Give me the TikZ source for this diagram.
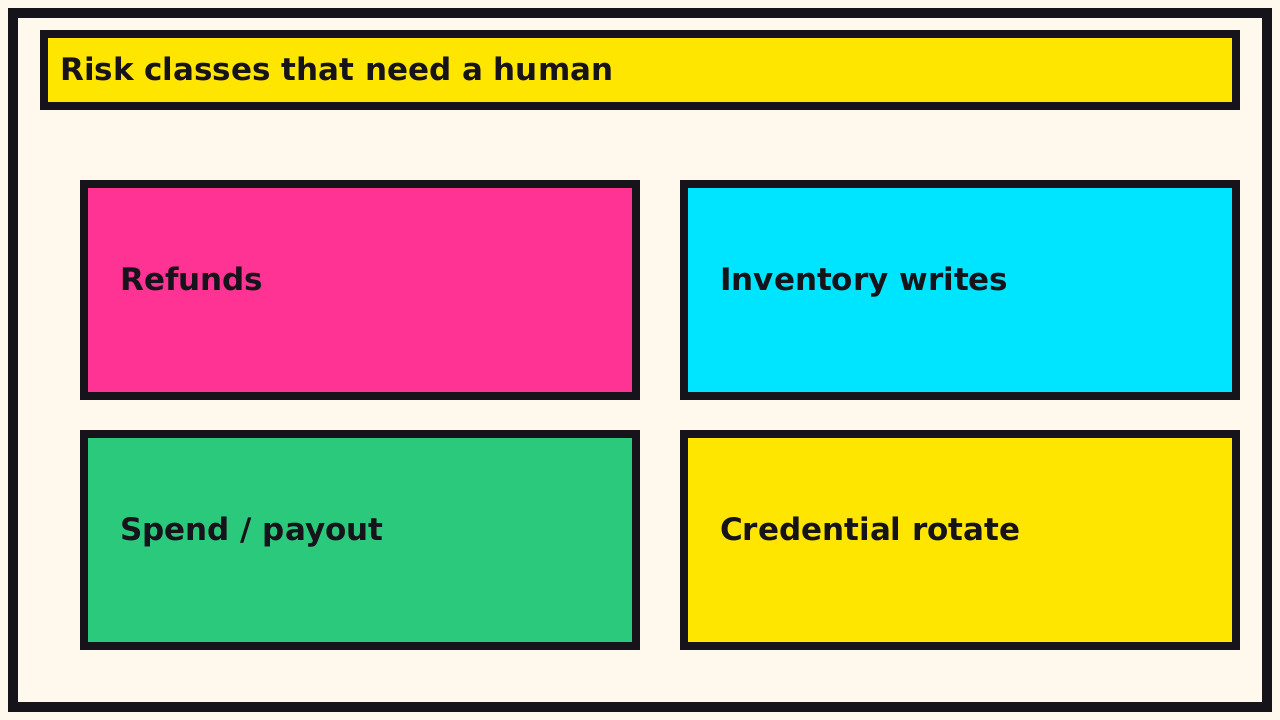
\documentclass[tikz,border=0pt]{standalone}
\usepackage{fontspec}
\setmainfont{DejaVu Sans}
\definecolor{bg}{HTML}{FFF8EC}
\definecolor{ink}{HTML}{16131A}
\definecolor{pinkc}{HTML}{FF3394}
\definecolor{cyanc}{HTML}{00E5FF}
\definecolor{greenc}{HTML}{2BC97B}
\definecolor{yellowc}{HTML}{FFE600}
\begin{document}
\begin{tikzpicture}[x=1pt,y=-1pt,
  box/.style={draw=ink,line width=8pt},
  lbl/.style={anchor=base west,text=ink,font=\bfseries\fontsize{31}{36}\selectfont,inner sep=0pt}]
\useasboundingbox (0,0) rectangle (1280,720);
\fill[bg] (0,0) rectangle (1280,720);
\draw[ink,line width=10pt] (13,13) rectangle (1267,707);
\draw[box,fill=yellowc] (44,34) rectangle (1236,106);
\node[lbl] (title) at (60,80) {Risk classes that need a human};
\draw[box,fill=pinkc] (84,184) rectangle (636,396);
\node[lbl] (a) at (120,290) {Refunds};
\draw[box,fill=cyanc] (684,184) rectangle (1236,396);
\node[lbl] (b) at (720,290) {Inventory writes};
\draw[box,fill=greenc] (84,434) rectangle (636,646);
\node[lbl] (c) at (120,540) {Spend / payout};
\draw[box,fill=yellowc] (684,434) rectangle (1236,646);
\node[lbl] (d) at (720,540) {Credential rotate};
\end{tikzpicture}
\end{document}
